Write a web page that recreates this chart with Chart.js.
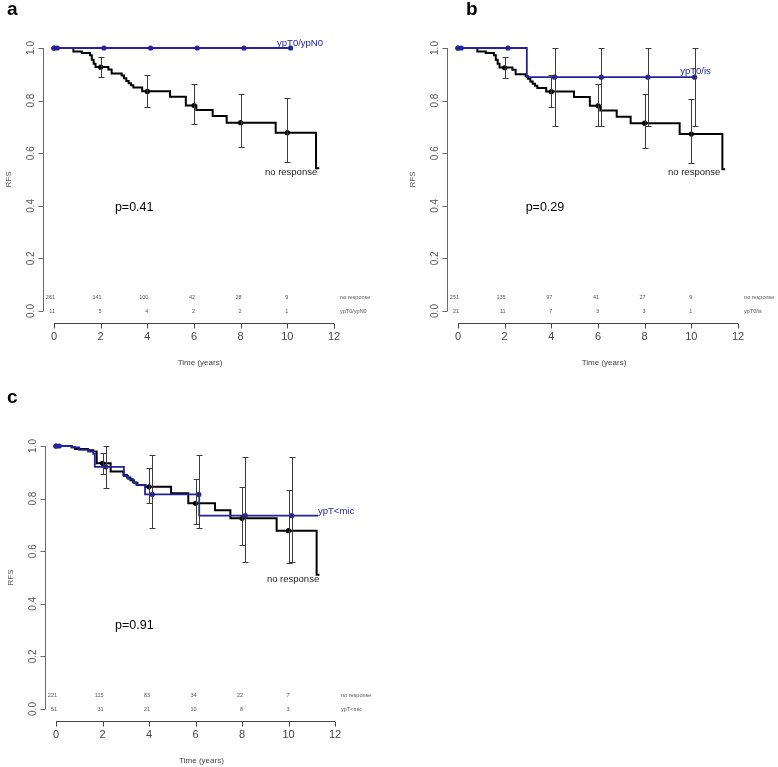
<!DOCTYPE html>
<html>
<head>
<meta charset="utf-8">
<title>RFS by response</title>
<script src="https://cdn.jsdelivr.net/npm/chart.js@4.4.0/dist/chart.umd.min.js"></script>
<style>
  body { margin: 0; background: #fff; width: 778px; height: 767px; overflow: hidden; position: relative; }
  canvas { position: absolute; }
</style>
</head>
<body>
<canvas id="panelA" width="389" height="383" style="left:0;top:0"></canvas>
<canvas id="panelB" width="374" height="383" style="left:404px;top:0"></canvas>
<canvas id="panelC" width="389" height="384" style="left:0;top:383px"></canvas>
<script>
const FONT = '"Liberation Sans", Arial, sans-serif';
const BLUE = '#23239f';

// Axis ticks
const xTicks = [0, 2, 4, 6, 8, 10, 12];
const yTicks = [0, 0.2, 0.4, 0.6, 0.8, 1.0];

// Number-at-risk times, and the times of the marks on each curve
const riskTimes = [0, 2, 4, 6, 8, 10];
const blackMarkTimes = [0, 2, 4, 6, 8, 10];
const blueMarkTimes = [0, 0.14, 2.14, 4.14, 6.14, 8.14, 10.14];

// ---------- Panel a: no response vs ypT0/ypN0 ----------
const aRefTime = [0, 0.6, 0.83, 1.19, 1.54, 1.62, 1.7, 1.78, 2.33, 2.47, 2.9, 3.0, 3.1, 3.2, 3.3, 3.4, 3.78, 4.97, 5.65, 6.1, 6.8, 7.4, 9.5, 11.23, 11.37];
const aRefSurv = [1, 1, 0.987, 0.981, 0.972, 0.955, 0.94, 0.928, 0.918, 0.903, 0.895, 0.885, 0.875, 0.866, 0.858, 0.85, 0.836, 0.815, 0.781, 0.764, 0.741, 0.716, 0.678, 0.543, 0.543];
const aRefMark = [1, 0.927, 0.835, 0.781, 0.716, 0.678];
const aRefLow  = [null, 0.889, 0.777, 0.710, 0.625, 0.565];
const aRefHigh = [null, 0.967, 0.897, 0.862, 0.824, 0.809];
const aGrpTime = [0, 10.14];
const aGrpSurv = [1, 1];
const aGrpMark = [1, 1, 1, 1, 1, 1, 1];
const aRiskRef = [261, 141, 100, 42, 28, 9];
const aRiskGrp = [11, 5, 4, 2, 2, 1];

// ---------- Panel b: no response vs ypT0/is ----------
const bRefTime = [0, 0.6, 0.83, 1.19, 1.54, 1.62, 1.7, 1.78, 2.33, 2.47, 2.9, 3.0, 3.1, 3.2, 3.3, 3.4, 3.78, 4.97, 5.65, 6.1, 6.8, 7.4, 9.5, 11.33, 11.45];
const bRefSurv = [1, 1, 0.987, 0.981, 0.972, 0.955, 0.94, 0.926, 0.917, 0.9, 0.893, 0.883, 0.873, 0.864, 0.856, 0.848, 0.835, 0.814, 0.78, 0.762, 0.739, 0.714, 0.673, 0.539, 0.539];
const bRefMark = [1, 0.925, 0.834, 0.78, 0.714, 0.673];
const bRefLow  = [null, 0.885, 0.777, 0.705, 0.619, 0.561];
const bRefHigh = [null, 0.965, 0.897, 0.862, 0.824, 0.807];
const bGrpTime = [0, 2.95, 10.14];
const bGrpSurv = [1, 0.889, 0.889];
const bGrpMark = [1, 1, 1, 0.889, 0.889, 0.889, 0.889];
const bGrpLow  = [null, null, null, 0.705, 0.705, 0.705, 0.705];
const bGrpHigh = [null, null, null, 1, 1, 1, 1];
const bRiskRef = [251, 135, 97, 41, 27, 9];
const bRiskGrp = [21, 11, 7, 3, 3, 1];

// ---------- Panel c: no response vs ypT<mic ----------
const cRefTime = [0, 0.67, 0.82, 1.38, 1.6, 1.75, 2.35, 2.9, 3.05, 3.2, 3.35, 3.5, 3.85, 4.95, 5.69, 6.84, 7.5, 9.49, 11.21, 11.33];
const cRefSurv = [1, 0.995, 0.989, 0.984, 0.979, 0.934, 0.903, 0.89, 0.88, 0.87, 0.86, 0.852, 0.845, 0.82, 0.782, 0.756, 0.725, 0.678, 0.51, 0.51];
const cRefMark = [1, 0.934, 0.845, 0.782, 0.725, 0.678];
const cRefLow  = [null, 0.892, 0.785, 0.702, 0.623, 0.554];
const cRefHigh = [null, 0.972, 0.916, 0.873, 0.845, 0.833];
const cGrpTime = [0, 0.67, 1.0, 1.38, 1.6, 1.67, 2.92, 3.1, 3.3, 3.45, 3.83, 6.16, 11.28];
const cGrpSurv = [1, 0.995, 0.985, 0.979, 0.97, 0.921, 0.886, 0.875, 0.862, 0.852, 0.816, 0.735, 0.735];
const cGrpMark = [1, 1, 0.921, 0.816, 0.816, 0.735, 0.735];
const cGrpLow  = [null, null, 0.84, 0.69, 0.69, 0.56, 0.56];
const cGrpHigh = [null, null, 1, 0.966, 0.966, 0.96, 0.96];
const cRiskRef = [221, 115, 83, 34, 22, 7];
const cRiskGrp = [51, 31, 21, 10, 8, 3];

// Helper: two arrays into {x, y} points
function toPts(xs, ys) {
    return xs.map((x, i) => ({ x: x, y: ys[i] }));
}

// Draws R-style axes, error bars, risk table and all the text
function makeDecor(p) {
    return {
        id: 'kmDecor',
        afterDatasetsDraw(chart) {
            const ctx = chart.ctx;
            const px = v => chart.scales.x.getPixelForValue(v);
            const py = v => chart.scales.y.getPixelForValue(v);
            const snap = v => Math.round(v) + 0.5;
            ctx.save();

            // Confidence interval bars
            ctx.strokeStyle = '#3c3c3c';
            ctx.lineWidth = 1;
            p.bars.forEach(b => {
                b.times.forEach((t, i) => {
                    if (b.low[i] == null) return;
                    const x = snap(px(t)), y1 = Math.round(py(b.low[i])), y2 = Math.round(py(b.high[i]));
                    ctx.beginPath();
                    ctx.moveTo(x, y1); ctx.lineTo(x, y2);
                    ctx.moveTo(x - 3, y1 + 0.5); ctx.lineTo(x + 3, y1 + 0.5);
                    ctx.moveTo(x - 3, y2 + 0.5); ctx.lineTo(x + 3, y2 + 0.5);
                    ctx.stroke();
                });
            });

            // Y axis, a little left of time 0
            const ax = snap(px(0) - 11);
            ctx.strokeStyle = '#6a6a6a';
            ctx.beginPath();
            ctx.moveTo(ax, py(0)); ctx.lineTo(ax, py(1));
            yTicks.forEach(v => { ctx.moveTo(ax - 5, snap(py(v))); ctx.lineTo(ax, snap(py(v))); });
            ctx.stroke();
            ctx.fillStyle = '#555';
            ctx.font = '10px ' + FONT;
            ctx.textAlign = 'center';
            ctx.textBaseline = 'middle';
            yTicks.forEach(v => {
                ctx.save();
                ctx.translate(ax - 12, py(v));
                ctx.rotate(-Math.PI / 2);
                ctx.fillText(v.toFixed(1), 0, 0);
                ctx.restore();
            });
            ctx.font = '8px ' + FONT;
            ctx.save();
            ctx.translate(ax - 35, (py(0) + py(1)) / 2);
            ctx.rotate(-Math.PI / 2);
            ctx.fillText('RFS', 0, 0);
            ctx.restore();

            // X axis, a little below 0
            const ay = snap(py(0) + 12);
            ctx.strokeStyle = '#444';
            ctx.beginPath();
            ctx.moveTo(px(0), ay); ctx.lineTo(px(12), ay);
            xTicks.forEach(v => { ctx.moveTo(snap(px(v)), ay); ctx.lineTo(snap(px(v)), ay + 5); });
            ctx.stroke();
            ctx.fillStyle = '#444';
            ctx.font = '11px ' + FONT;
            xTicks.forEach(v => ctx.fillText(String(v), px(v), ay + 13));
            ctx.font = '8px ' + FONT;
            ctx.fillText('Time (years)', px(6) + 6, ay + 39);

            // Number at risk table
            ctx.font = '5.5px ' + FONT;
            ctx.fillStyle = '#555';
            p.risk.forEach((row, r) => {
                ctx.textAlign = 'right';
                row.values.forEach((n, i) => ctx.fillText(String(n), px(riskTimes[i]) + 1, py(p.riskLevels[r])));
                ctx.textAlign = 'left';
                ctx.fillText(row.name, px(12.26), py(p.riskLevels[r]));
            });

            // Curve labels and p-value
            ctx.textAlign = 'left';
            p.labels.forEach(l => {
                ctx.fillStyle = l.color;
                ctx.font = l.size + 'px ' + FONT;
                ctx.fillText(l.text, px(l.t), py(l.s));
            });

            // Panel letter
            ctx.fillStyle = '#000';
            ctx.font = 'bold 19px ' + FONT;
            ctx.textBaseline = 'alphabetic';
            ctx.fillText(p.letter, p.letterX, p.letterY);
            ctx.restore();
        }
    };
}

function drawPanel(canvasId, p) {
    const ctx = document.getElementById(canvasId).getContext('2d');
    new Chart(ctx, {
        type: 'scatter',
        data: {
            datasets: [
                { data: toPts(blueMarkTimes, p.grpMark), showLine: false, pointRadius: 2.6, pointBackgroundColor: BLUE, pointBorderWidth: 0, clip: false },
                { data: toPts(p.grpTime, p.grpSurv), showLine: true, stepped: true, borderColor: BLUE, borderWidth: 1.8, pointRadius: 0, clip: false },
                { data: toPts(blackMarkTimes, p.refMark), showLine: false, pointRadius: 2.6, pointBackgroundColor: '#000', pointBorderWidth: 0, clip: false },
                { data: toPts(p.refTime, p.refSurv), showLine: true, stepped: true, borderColor: '#000', borderWidth: 2, pointRadius: 0, clip: false }
            ]
        },
        options: {
            responsive: false,
            animation: false,
            events: [],
            layout: { padding: p.padding },
            scales: {
                x: { type: 'linear', min: 0, max: 12, display: false },
                y: { type: 'linear', min: 0, max: 1, display: false }
            },
            plugins: { legend: { display: false }, tooltip: { enabled: false } }
        },
        plugins: [makeDecor(p)]
    });
}

drawPanel('panelA', {
    refTime: aRefTime, refSurv: aRefSurv, refMark: aRefMark,
    grpTime: aGrpTime, grpSurv: aGrpSurv, grpMark: aGrpMark,
    bars: [{ times: blackMarkTimes, low: aRefLow, high: aRefHigh }],
    risk: [{ name: 'no response', values: aRiskRef }, { name: 'ypT0/ypN0', values: aRiskGrp }],
    riskLevels: [0.053, 0],
    labels: [
        { text: 'ypT0/ypN0', t: 9.56, s: 1.019, color: BLUE, size: 9.5 },
        { text: 'no response', t: 9.04, s: 0.526, color: '#222', size: 9.5 },
        { text: 'p=0.41', t: 2.61, s: 0.395, color: '#000', size: 12.5 }
    ],
    letter: 'a', letterX: 7, letterY: 15,
    padding: { left: 54, right: 55, top: 48, bottom: 72 }
});

drawPanel('panelB', {
    refTime: bRefTime, refSurv: bRefSurv, refMark: bRefMark,
    grpTime: bGrpTime, grpSurv: bGrpSurv, grpMark: bGrpMark,
    bars: [
        { times: blackMarkTimes, low: bRefLow, high: bRefHigh },
        { times: blueMarkTimes, low: bGrpLow, high: bGrpHigh }
    ],
    risk: [{ name: 'no response', values: bRiskRef }, { name: 'ypT0/is', values: bRiskGrp }],
    riskLevels: [0.053, 0],
    labels: [
        { text: 'ypT0/is', t: 9.52, s: 0.91, color: BLUE, size: 9.5 },
        { text: 'no response', t: 9.0, s: 0.526, color: '#222', size: 9.5 },
        { text: 'p=0.29', t: 2.9, s: 0.395, color: '#000', size: 12.5 }
    ],
    letter: 'b', letterX: 62, letterY: 15,
    padding: { left: 54, right: 40, top: 48, bottom: 72 }
});

drawPanel('panelC', {
    refTime: cRefTime, refSurv: cRefSurv, refMark: cRefMark,
    grpTime: cGrpTime, grpSurv: cGrpSurv, grpMark: cGrpMark,
    bars: [
        { times: blackMarkTimes, low: cRefLow, high: cRefHigh },
        { times: blueMarkTimes, low: cGrpLow, high: cGrpHigh }
    ],
    risk: [{ name: 'no response', values: cRiskRef }, { name: 'ypT<mic', values: cRiskGrp }],
    riskLevels: [0.053, 0],
    labels: [
        { text: 'ypT<mic', t: 11.27, s: 0.753, color: BLUE, size: 9.5 },
        { text: 'no response', t: 9.07, s: 0.494, color: '#222', size: 9.5 },
        { text: 'p=0.91', t: 2.54, s: 0.319, color: '#000', size: 12.5 }
    ],
    letter: 'c', letterX: 7, letterY: 20,
    padding: { left: 56, right: 54, top: 63, bottom: 58 }
});
</script>
</body>
</html>
